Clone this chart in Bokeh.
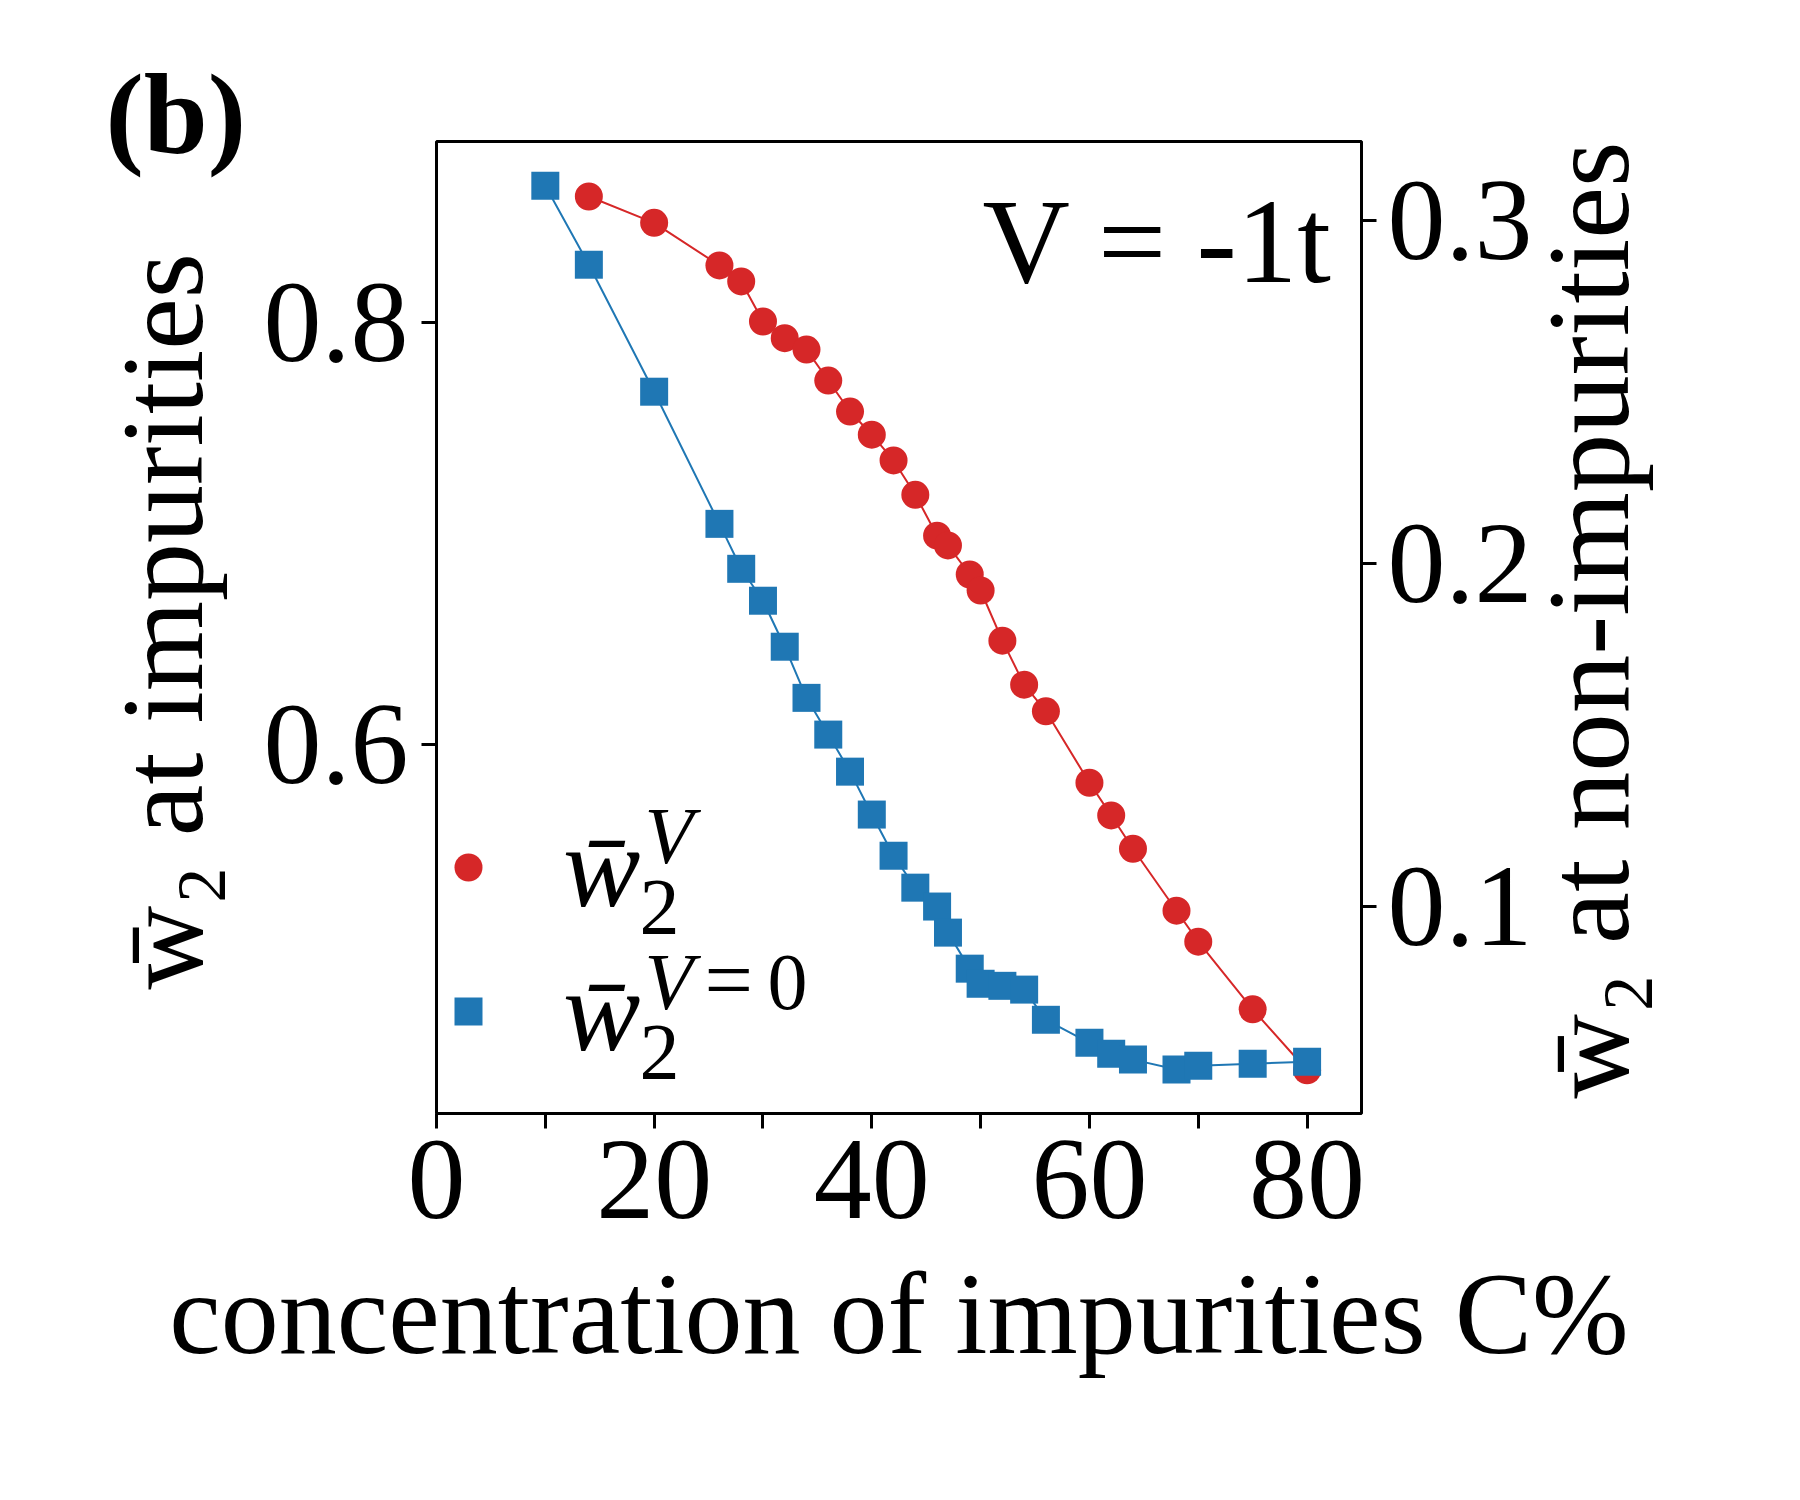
from bokeh.plotting import figure
from bokeh.models import Range1d, LinearAxis, FixedTicker, Label, Legend, LegendItem
from bokeh.core.properties import value
from bokeh.embed import file_html
from bokeh.resources import INLINE
import math

# ---------------- data ----------------
conc_v = [14, 20, 26, 28, 30, 32, 34, 36, 38, 40, 42, 44, 46, 47, 49, 50,
          52, 54, 56, 60, 62, 64, 68, 70, 75, 80]
w2_v = [0.8599, 0.8474, 0.8272, 0.8196, 0.8006, 0.7927, 0.7873, 0.7726,
        0.7579, 0.7469, 0.7347, 0.7184, 0.6990, 0.6944, 0.6806, 0.6730,
        0.6492, 0.6283, 0.6157, 0.5818, 0.5663, 0.5505, 0.5211, 0.5064,
        0.4743, 0.4454]

conc_v0 = [10, 14, 20, 26, 28, 30, 32, 34, 36, 38, 40, 42, 44, 46, 47, 49,
           50, 52, 54, 56, 60, 62, 64, 68, 70, 75, 80]
w2_v0 = [0.3101, 0.2871, 0.2501, 0.2116, 0.1985, 0.1892, 0.1758, 0.1609,
         0.1502, 0.1394, 0.1269, 0.1149, 0.1056, 0.1001, 0.0925, 0.0820,
         0.0776, 0.0770, 0.0759, 0.0671, 0.0604, 0.0572, 0.0555, 0.0526,
         0.0537, 0.0543, 0.0549]

x_ticks = [0, 10, 20, 30, 40, 50, 60, 70, 80]
x_tick_text = ["0", "", "20", "", "40", "", "60", "", "80"]
left_ticks = [0.6, 0.8]
left_tick_text = ["0.6", "0.8"]
right_ticks = [0.1, 0.2, 0.3]
right_tick_text = ["0.1", "0.2", "0.3"]

x_label = "concentration of impurities C%"
left_label = "w\u0304\u2082 at impurities"
right_label = "w\u0304\u2082 at non-impurities"
panel_tag = "(b)"
annot = "V = -1t"

RED = "#d62728"
BLUE = "#1f77b4"
FONT = "Liberation Serif"

# ---------------- layout ----------------
CW, CH = 1784, 1484
FL, FT, FW, FH = 436, 141, 925, 972
PX0 = 8 + FL            # frame left on the page
PY0 = 8 + FT            # frame top on the page
PY1 = PY0 + FH          # frame bottom on the page
X0, X1 = 0, 85
Y0, Y1 = 0.4249, 0.886

p = figure(frame_width=FW, frame_height=FH,
           min_border_left=FL, min_border_top=FT,
           min_border_right=CW - FL - FW, min_border_bottom=CH - FT - FH,
           x_range=Range1d(X0, X1), y_range=Range1d(Y0, Y1),
           output_backend="svg", toolbar_location=None)
p.background_fill_color = "white"
p.border_fill_color = "white"
p.outline_line_color = "black"
p.outline_line_width = 3
p.xgrid.visible = False
p.ygrid.visible = False

p.extra_y_ranges = {"r": Range1d(0.0398, 0.323)}
ax_r = LinearAxis(y_range_name="r")
p.add_layout(ax_r, "right")


def style_axis(ax, ticks, texts, standoff):
    ax.ticker = FixedTicker(ticks=ticks)
    ax.major_label_overrides = {t: s for t, s in zip(ticks, texts)}
    ax.axis_line_color = None
    ax.major_tick_line_color = "black"
    ax.major_tick_line_width = 3
    ax.major_tick_out = 15
    ax.major_tick_in = 0
    ax.minor_tick_line_color = None
    ax.major_label_text_font = FONT
    ax.major_label_text_font_size = "116px"
    ax.major_label_text_color = "black"
    ax.major_label_standoff = standoff


style_axis(p.xaxis[0], x_ticks, x_tick_text, 12)
style_axis(p.yaxis[0], left_ticks, left_tick_text, 13)
style_axis(ax_r, right_ticks, right_tick_text, 11)

p.xaxis.axis_label = x_label
p.xaxis.axis_label_text_font = FONT
p.xaxis.axis_label_text_font_size = "116px"
p.xaxis.axis_label_text_font_style = "normal"
p.xaxis.axis_label_text_color = "black"
p.xaxis.axis_label_standoff = 29

# ---------------- series ----------------
p.line(conc_v, w2_v, line_color=RED, line_width=2)
r_pts = p.scatter(conc_v, w2_v, marker="circle", size=28,
                  fill_color=RED, line_color=None)
p.line(conc_v0, w2_v0, line_color=BLUE, line_width=2, y_range_name="r")
b_pts = p.scatter(conc_v0, w2_v0, marker="square", size=28,
                  fill_color=BLUE, line_color=None, y_range_name="r")

legend = Legend(items=[LegendItem(label=value("w\u0304"), renderers=[r_pts]),
                       LegendItem(label=value("w\u0304"), renderers=[b_pts])],
                location=(-3, 32), orientation="vertical",
                glyph_width=70, glyph_height=140, label_height=140,
                spacing=4, padding=0, margin=0, label_standoff=60,
                border_line_color=None, background_fill_alpha=0,
                label_text_font=FONT, label_text_font_size="116px",
                label_text_font_style="italic", label_text_color="black")
p.add_layout(legend)


# ---------------- texts ----------------
def anchor(X, Y, size, rotated):
    # page position of the baseline start -> anchor used by bokeh
    if rotated:
        return X - 0.38 * size, Y
    return X, Y - 0.28 * size


def frame_label(X, Y, text, size, style="normal"):
    # text inside the frame: frame-relative screen units
    ax_, ay_ = anchor(X, Y, size, False)
    p.add_layout(Label(x=ax_ - PX0, y=PY1 - ay_, x_units="screen", y_units="screen",
                       text=text, text_font=FONT, text_font_size=f"{size}px",
                       text_font_style=style, text_align="left",
                       text_baseline="alphabetic", text_color="black"))


def side_label(X, Y, text, size, style, rotated, place):
    # text outside the frame: lives in a side panel (not clipped) and is
    # positioned through the plot's own scales
    ax_, ay_ = anchor(X, Y, size, rotated)
    xd = X0 + (ax_ - PX0) / FW * (X1 - X0)
    yd = Y1 - (ay_ - PY0) / FH * (Y1 - Y0)
    p.add_layout(Label(x=xd, y=yd, x_units="data", y_units="data",
                       text=text, text_font=FONT, text_font_size=f"{size}px",
                       text_font_style=style, text_align="left",
                       text_baseline="alphabetic",
                       angle=math.pi / 2 if rotated else 0.0,
                       text_color="black"), place)


side_label(113, 154, panel_tag, 115, "bold", False, "above")
side_label(215, 997, left_label, 116, "normal", True, "left")
side_label(1640, 1106, right_label, 117, "normal", True, "right")

frame_label(990, 282, annot, 121)
# legend math pieces (sub/superscripts next to the legend labels)
frame_label(647, 937, "2", 80)
frame_label(652, 866, "V", 80, "italic")
frame_label(647, 1082, "2", 80)
frame_label(652, 1012, "V", 80, "italic")
frame_label(712, 1012, "=", 86)
frame_label(775, 1012, "0", 80)

open("out.html", "w").write(file_html(p, INLINE))
